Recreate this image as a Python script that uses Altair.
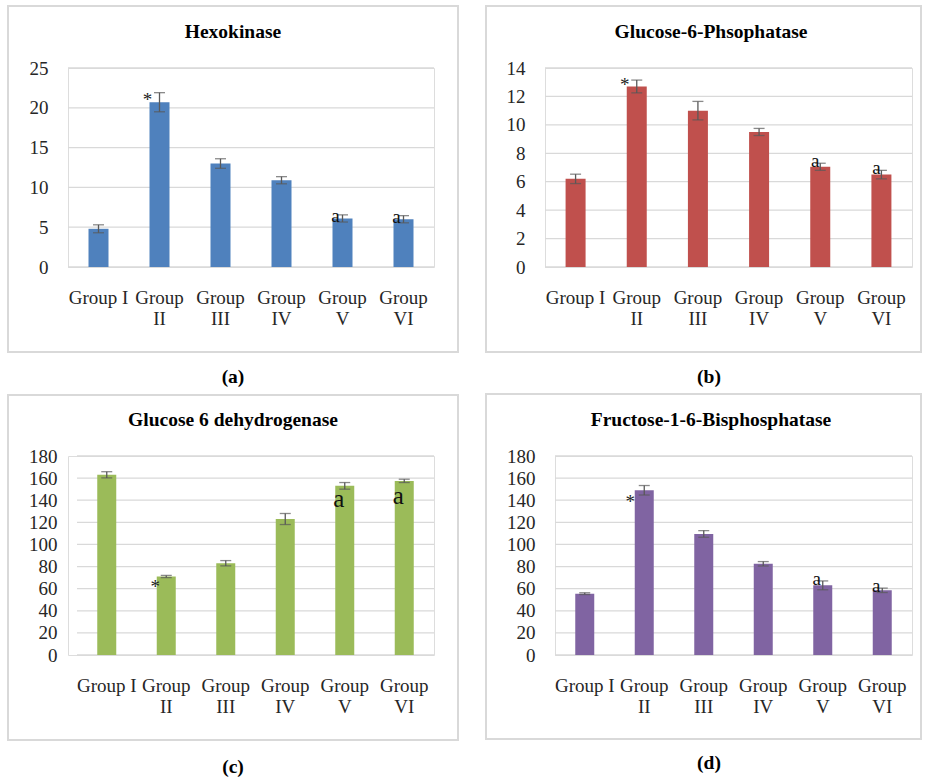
import altair as alt
import pandas as pd

groups = ["Group I", "Group II", "Group III", "Group IV", "Group V", "Group VI"]
signif = ["", "*", "", "", "a", "a"]

hk_values = [4.8, 20.7, 13.0, 10.9, 6.1, 6.0]
hk_errors = [0.5, 1.2, 0.6, 0.45, 0.45, 0.45]
hk_ticks = [0, 5, 10, 15, 20, 25]

g6p_values = [6.2, 12.7, 11.0, 9.5, 7.05, 6.5]
g6p_errors = [0.33, 0.45, 0.65, 0.25, 0.25, 0.3]
g6p_ticks = [0, 2, 4, 6, 8, 10, 12, 14]

g6pd_values = [163, 71, 83, 123, 153, 157.5]
g6pd_errors = [2.8, 1.0, 2.4, 5.0, 3.0, 1.5]

fbp_values = [55.5, 149, 109.5, 82.5, 63, 58.5]
fbp_errors = [0.8, 4.3, 3.0, 2.0, 4.0, 2.0]

big_ticks = [0, 20, 40, 60, 80, 100, 120, 140, 160, 180]

FONT = "Liberation Serif"
TXT = "#262626"
EB = "#595959"
GRID = "#d9d9d9"
FS = 19
TFS = 19.5


def panel(title, caption, values, errors, color, ticks, w, h, bar_size,
          box, title_x, cap_x, cap_y, star_dx, star_dy, a_dx, a_dy, a_size,
          shift=0, top_extra=None):
    df = pd.DataFrame({"group": groups, "value": values, "err": errors, "sig": signif})
    df["lo"] = df["value"] - df["err"]
    df["hi"] = df["value"] + df["err"]
    gdf = pd.DataFrame({"tick": ticks})

    xaxis = alt.Axis(labelAngle=0, ticks=False, domain=False, grid=False,
                     labelPadding=21, labelLineHeight=21, labelFontSize=FS,
                     labelFont=FONT, labelColor=TXT, labelLimit=300,
                     labelExpr="datum.label === 'Group I' ? datum.label : split(datum.label, ' ')")
    yaxis = alt.Axis(values=ticks, ticks=False, domain=False, grid=False,
                     labelPadding=20, offset=-shift,
                     labelFontSize=FS, labelFont=FONT, labelColor=TXT)
    yscale = alt.Scale(domain=[ticks[0], ticks[-1]], nice=False, zero=True)
    if shift:
        xscale = alt.Scale(paddingInner=0, paddingOuter=0, range=[shift, w + shift])
    else:
        xscale = alt.Scale(paddingInner=0, paddingOuter=0)

    def X():
        return alt.X("group:N", sort=groups, title=None, scale=xscale, axis=xaxis)

    def Y(field):
        return alt.Y(field + ":Q", title=None, scale=yscale, axis=yaxis)

    base = alt.Chart(df)
    one = pd.DataFrame({"t": [0]})

    border = alt.Chart(one).mark_rect(fillOpacity=0, stroke=GRID, strokeWidth=2).encode(
        x=alt.value(box[0] + shift), x2=alt.value(box[1] + shift),
        y=alt.value(box[2]), y2=alt.value(box[3]))
    grid = alt.Chart(gdf).mark_rule(color=GRID, strokeWidth=1.3).encode(
        y=alt.Y("tick:Q", scale=yscale, axis=yaxis),
        x=alt.value(shift), x2=alt.value(w + shift))
    bars = base.mark_bar(color=color, size=bar_size).encode(x=X(), y=Y("value"))
    rule = base.mark_rule(color=EB, strokeWidth=1.3).encode(x=X(), y=Y("lo"), y2="hi:Q")
    cap_hi = base.mark_tick(color=EB, size=11, thickness=1.3).encode(x=X(), y=Y("hi"))
    cap_lo = base.mark_tick(color=EB, size=11, thickness=1.3).encode(x=X(), y=Y("lo"))
    star = base.transform_filter("datum.sig == '*'").mark_text(
        font=FONT, fontSize=19, color="#222222", dx=star_dx, dy=star_dy).encode(
        x=X(), y=Y("hi"), text="sig:N")
    aa = base.transform_filter("datum.sig == 'a'").mark_text(
        font=FONT, fontSize=a_size, color="#111111", dx=a_dx, dy=a_dy).encode(
        x=X(), y=Y("hi"), text="sig:N")
    ttl = alt.Chart(pd.DataFrame({"t": [title]})).mark_text(
        font=FONT, fontSize=TFS, fontWeight="bold", color="black").encode(
        text="t:N", x=alt.value(title_x + shift), y=alt.value(-36))
    cap = alt.Chart(pd.DataFrame({"t": [caption]})).mark_text(
        font=FONT, fontSize=TFS, fontWeight="bold", color="black").encode(
        text="t:N", x=alt.value(cap_x + shift), y=alt.value(cap_y))
    layers = [border, grid, bars, rule, cap_hi, cap_lo, star, aa, ttl, cap]
    if top_extra is not None:
        layers.append(alt.Chart(one).mark_rule(stroke="white", strokeWidth=1).encode(
            x=alt.value(0), x2=alt.value(10), y=alt.value(top_extra)))
    return alt.layer(*layers).properties(width=w + shift, height=h)


pa = panel("Hexokinase", "(a)", hk_values, hk_errors, "#4F81BD", hk_ticks,
           366, 199, 20, (-60, 390, -62, 284), 165, 165, 309,
           -12, 7, -7, 1, 19)
pb = panel("Glucose-6-Phsophatase", "(b)", g6p_values, g6p_errors, "#C0504D", g6p_ticks,
           367, 199, 20, (-59, 376, -62, 284), 166, 164, 309,
           -12, 5, -5, -2, 19)
pc = panel("Glucose 6 dehydrogenase", "(c)", g6pd_values, g6pd_errors, "#9BBB59", big_ticks,
           357, 199, 19, (-69, 381, -61, 284), 156, 156, 311,
           -11, 12, -6, 16.5, 25, shift=9)
pd_ = panel("Fructose-1-6-Bisphosphatase", "(d)", fbp_values, fbp_errors, "#8064A2", big_ticks,
            357, 199, 19, (-69, 366, -62, 283), 156, 154, 307,
            -14, 16, -6, -2, 19, top_extra=-65.5)

row1 = alt.hconcat(pa, pb, spacing=24)
row2 = alt.hconcat(pc, pd_, spacing=24)
chart = alt.vconcat(row1, row2, spacing=2).properties(
    padding={"left": 6, "top": 4, "right": 0, "bottom": 0}
).configure_view(stroke="transparent").configure(background="white")

chart.save("out.html", embed_options={"renderer": "svg", "actions": False})
